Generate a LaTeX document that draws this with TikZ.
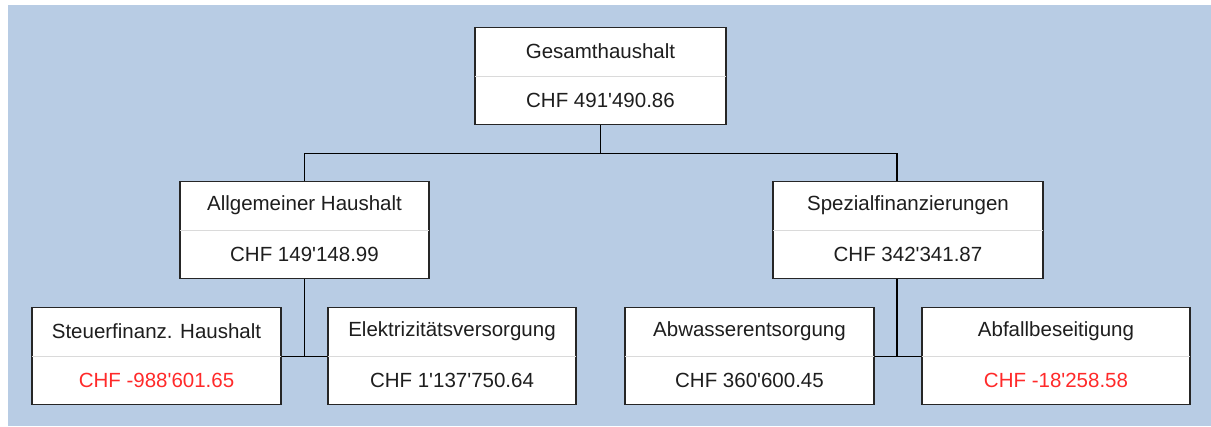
\documentclass[tikz,border=0pt]{standalone}
\usepackage{fontspec}
\setmainfont{Liberation Sans}[Ligatures=TeXOff]
\usetikzlibrary{calc}
\definecolor{bgblue}{HTML}{B8CCE4}
\definecolor{txtcol}{HTML}{1E1E1E}
\definecolor{negcol}{HTML}{FF2A2A}
\definecolor{divgray}{HTML}{DADADA}
\tikzset{
  orgbox/.style={draw=black!85, line width=1.3pt, fill=white, minimum height=97pt, inner sep=0pt},
  lbl/.style={font=\fontsize{20.5}{24}\selectfont, text=txtcol, inner sep=0pt},
  conn/.style={draw=black, line width=1.3pt},
  divider/.style={draw=divgray, line width=1pt}
}
\newcommand\orgnode[7]{%
  \node[orgbox, minimum width=#4pt, anchor=north] (#1) at (#2,#3) {};
  \draw[divider] ([xshift=0.7pt]#1.west) -- ([xshift=-0.7pt]#1.east);
  \node[lbl] (#1-t) at ($(#1.north)!0.25!(#1.south)$) {#5};
  \node[lbl, text=#7] (#1-v) at ($(#1.north)!0.75!(#1.south)$) {#6};
}
\begin{document}
\begin{tikzpicture}[x=1pt, y=-1pt]
  \useasboundingbox (0,0) rectangle (1211,426);
  \fill[bgblue] (8,5) rectangle (1211,426);

  \orgnode{top}{600.5}{27}{251}{Gesamthaushalt}{CHF 491'490.86}{txtcol}
  \orgnode{allg}{304.5}{181}{249}{Allgemeiner Haushalt}{CHF 149'148.99}{txtcol}
  \orgnode{spez}{908}{181}{270}{Spezialfinanzierungen}{CHF 342'341.87}{txtcol}
  \orgnode{steuer}{156.5}{307}{249}{Steuerfinanz. Haushalt}{CHF -988'601.65}{negcol}
  \orgnode{elek}{452}{307}{248}{Elektrizitätsversorgung}{CHF 1'137'750.64}{txtcol}
  \orgnode{abw}{749.5}{307}{249}{Abwasserentsorgung}{CHF 360'600.45}{txtcol}
  \orgnode{abf}{1056}{307}{268}{Abfallbeseitigung}{CHF -18'258.58}{negcol}

  \coordinate (jt) at ($(top.south)+(0,28)$);
  \coordinate (spIn) at ([xshift=-11pt]spez.north);
  \coordinate (spOut) at ([xshift=-11pt]spez.south);
  \draw[conn] (top.south) -- (jt);
  \draw[conn] (allg.north) |- (jt) -| (spIn);

  \draw[conn] (allg.south) -- (allg.south |- steuer.east);
  \draw[conn] (steuer.east) -- (elek.west);

  \draw[conn] (spOut) -- (spOut |- abw.east);
  \draw[conn] (abw.east) -- (abf.west);
\end{tikzpicture}
\end{document}
